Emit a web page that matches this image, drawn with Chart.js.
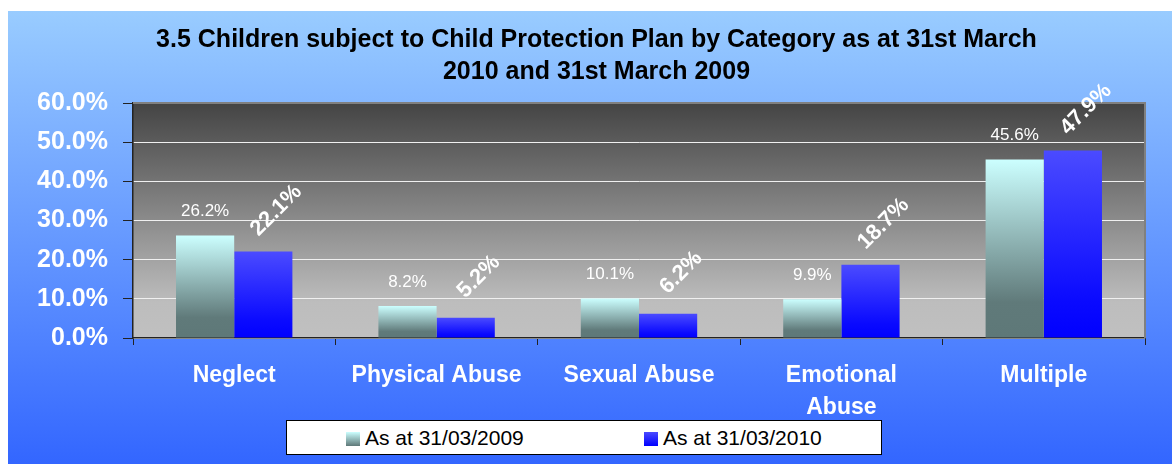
<!DOCTYPE html>
<html>
<head>
<meta charset="utf-8">
<title>Children subject to Child Protection Plan by Category</title>
<script src="https://cdn.jsdelivr.net/npm/chart.js@4.4.0/dist/chart.umd.min.js"></script>
<style>
  body { margin: 0; background: #fff; }
  #wrap {
    position: absolute; left: 8px; top: 11px; width: 1164px; height: 453px;
    background: linear-gradient(#99ccff, #3366ff);
  }
  #legend {
    position: absolute; left: 278px; top: 409px; width: 596px; height: 35px;
    box-sizing: border-box; background: #fff; border: 1px solid #000;
    font-family: "Liberation Sans", Arial, sans-serif; font-size: 21px; color: #000;
  }
  #legend .item { position: absolute; top: 5px; line-height: 24px; white-space: nowrap; }
  #legend .box { display: inline-block; width: 14px; height: 14px; margin-right: 5px; vertical-align: -1px; }
</style>
</head>
<body>
<div id="wrap">
  <canvas id="chartCategory"></canvas>
  <div id="legend">
    <span class="item" style="left:59px"><span class="box" style="background:linear-gradient(#ccffff,#5e7878)"></span>As at 31/03/2009</span>
    <span class="item" style="left:357px"><span class="box" style="background:linear-gradient(#4b4bff,#0000ff)"></span>As at 31/03/2010</span>
  </div>
</div>
<script>
const categories = ["Neglect", "Physical Abuse", "Sexual Abuse", ["Emotional", "Abuse"], "Multiple"];
const values2009 = [26.2, 8.2, 10.1, 9.9, 45.6];
const values2010 = [22.1, 5.2, 6.2, 18.7, 47.9];
const seriesNames = ["As at 31/03/2009", "As at 31/03/2010"];
const yTicks = [0, 10, 20, 30, 40, 50, 60];

const fontFamily = '"Liberation Sans", Arial, sans-serif';
Chart.defaults.font.family = fontFamily;

// gradient running from the top of each bar down to zero
function barGradient(context, topColor, midColor, bottomColor) {
  const chart = context.chart;
  const y = chart.scales.y;
  if (!y || context.raw === undefined) return bottomColor;
  const top = y.getPixelForValue(context.raw);
  const bottom = y.getPixelForValue(0);
  if (!isFinite(top) || !isFinite(bottom) || top === bottom) return bottomColor;
  const g = chart.ctx.createLinearGradient(0, top, 0, bottom);
  g.addColorStop(0, topColor);
  g.addColorStop(0.8, midColor);
  g.addColorStop(1, bottomColor);
  return g;
}

const plotBackground = {
  id: "plotBackground",
  afterLayout(chart) {
    // the title sits a little right of the canvas centre
    if (chart.titleBlock) {
      chart.titleBlock.left += 20;
      chart.titleBlock.right += 20;
    }
  },
  beforeDraw(chart) {
    const { ctx, chartArea } = chart;
    if (!chartArea) return;
    const g = ctx.createLinearGradient(0, chartArea.top, 0, chartArea.bottom);
    g.addColorStop(0, "#444444");
    g.addColorStop(0.85, "#bdbdbd");
    g.addColorStop(1, "#c0c0c0");
    ctx.save();
    ctx.fillStyle = g;
    ctx.fillRect(chartArea.left, chartArea.top, chartArea.right - chartArea.left, chartArea.bottom - chartArea.top);
    ctx.restore();
  },
  beforeDatasetsDraw(chart) {
    const { ctx, chartArea } = chart;
    ctx.save();
    ctx.strokeStyle = "#808080";
    ctx.lineWidth = 2;
    ctx.beginPath();
    ctx.moveTo(chartArea.left, chartArea.top);
    ctx.lineTo(chartArea.right, chartArea.top);
    ctx.lineTo(chartArea.right, chartArea.bottom);
    ctx.stroke();
    ctx.restore();
  }
};

const valueLabels = {
  id: "valueLabels",
  afterDatasetsDraw(chart) {
    const ctx = chart.ctx;
    ctx.save();
    ctx.fillStyle = "#ffffff";
    chart.getDatasetMeta(0).data.forEach(function (bar, i) {
      ctx.font = "17px " + fontFamily;
      ctx.textAlign = "center";
      ctx.textBaseline = "alphabetic";
      ctx.fillText(values2009[i].toFixed(1) + "%", bar.x, bar.y - 19);
    });
    chart.getDatasetMeta(1).data.forEach(function (bar, i) {
      ctx.save();
      ctx.translate(bar.x + 13, bar.y - 41);
      ctx.rotate(-Math.PI / 4);
      ctx.font = "bold 22px " + fontFamily;
      ctx.textAlign = "center";
      ctx.textBaseline = "middle";
      ctx.fillText(values2010[i].toFixed(1) + "%", 0, 0);
      ctx.restore();
    });
    ctx.restore();
  }
};

const chart = new Chart("chartCategory", {
  type: "bar",
  data: {
    labels: categories,
    datasets: [
      {
        label: seriesNames[0],
        data: values2009,
        backgroundColor: (c) => barGradient(c, "#ccffff", "#607a7a", "#5e7878"),
        categoryPercentage: 0.575,
        barPercentage: 1,
      },
      {
        label: seriesNames[1],
        data: values2010,
        backgroundColor: (c) => barGradient(c, "#4b4bff", "#0a0aff", "#0000ff"),
        categoryPercentage: 0.575,
        barPercentage: 1,
      },
    ],
  },
  options: {
    responsive: true,
    maintainAspectRatio: false,
    animation: false,
    layout: { padding: { left: 0, right: 27, top: 0, bottom: 0 } },
    plugins: {
      legend: { display: false },
      tooltip: { enabled: false },
      title: {
        display: true,
        text: ["3.5 Children subject to Child Protection Plan by Category as at 31st March", "2010 and 31st March 2009"],
        color: "#000000",
        font: { size: 25, weight: "bold", lineHeight: 1.28 },
        padding: { top: 13, bottom: 15 },
      },
    },
    scales: {
      x: {
        afterFit: (s) => { s.height = 126; },
        grid: { offset: true, drawOnChartArea: false, tickLength: 7, tickColor: "#222222" },
        border: { display: true, color: "#222222", width: 1.5 },
        ticks: {
          color: "#ffffff",
          font: { size: 23, weight: "bold", lineHeight: 1.39 },
          padding: 15,
          maxRotation: 0,
          autoSkip: false,
        },
      },
      y: {
        min: yTicks[0],
        max: yTicks[yTicks.length - 1],
        afterFit: (s) => { s.width = 125; },
        afterBuildTicks: (s) => { s.ticks = yTicks.map((v) => ({ value: v })); },
        grid: { color: "#f0f0f0", lineWidth: 1, tickLength: 10, tickColor: "#222222" },
        border: { display: true, color: "#222222", width: 1.5 },
        ticks: {
          color: "#ffffff",
          font: { size: 25, weight: "bold" },
          padding: 15,
          callback: (v) => v.toFixed(1) + "%",
        },
      },
    },
  },
  plugins: [plotBackground, valueLabels],
});
</script>
</body>
</html>
